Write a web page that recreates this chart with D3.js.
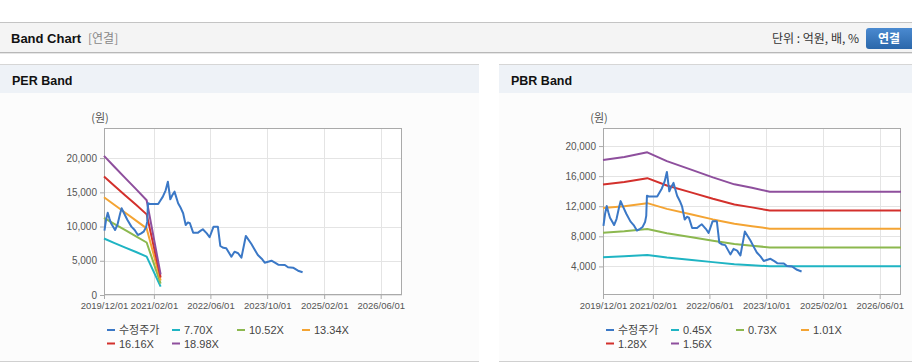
<!DOCTYPE html>
<html>
<head>
<meta charset="utf-8">
<script src="https://cdn.jsdelivr.net/npm/d3@7"></script>
<style>
  body { margin: 0; background: #fff; overflow: hidden; }
  svg { display: block; }
</style>
</head>
<body>
<svg id="chart" width="912" height="364"></svg>
<script>
// 수정주가 (PER / PBR 공통)
var priceDates = ["2019-12-05","2019-12-19","2020-01-02","2020-01-16","2020-01-30","2020-02-20","2020-03-05","2020-03-26",
  "2020-04-16","2020-04-30","2020-05-21","2020-06-18","2020-07-23","2020-08-20","2020-09-17","2020-10-15","2020-11-05",
  "2020-11-26","2020-12-06","2020-12-12","2020-12-28","2021-02-04","2021-03-10","2021-03-25","2021-04-19","2021-05-13",
  "2021-06-01","2021-06-22","2021-07-10","2021-07-28","2021-08-28","2021-09-20","2021-10-10","2021-11-01","2021-11-20",
  "2021-12-07","2022-01-04","2022-02-15","2022-03-10","2022-03-28","2022-05-01","2022-05-25","2022-06-28","2022-08-04",
  "2022-08-25","2022-09-20","2022-10-15","2022-11-28","2022-12-25","2023-01-25","2023-02-22","2023-04-01","2023-05-19",
  "2023-06-20","2023-07-13","2023-08-15","2023-09-10","2023-11-07","2023-12-10","2024-01-04","2024-03-01","2024-03-28",
  "2024-05-10","2024-06-22","2024-07-31"];
var priceValues = [9400,11000,12030,11200,10480,9900,9500,10300,
  11800,12680,11940,11000,9990,9500,8770,9000,9250,
  9900,10720,13400,13300,13300,13300,13700,14370,15300,
  16560,13990,14600,15100,13400,12700,11940,10230,10600,
  10480,9110,9110,9400,9600,9000,8440,9990,9990,
  7160,6900,6830,5600,6330,6100,5450,8630,7450,
  6500,5850,5300,4720,5010,4700,4430,4390,4050,
  3990,3550,3320];

// PER 밴드
var perBandDates = ["2019-12-01","2020-03-01","2020-06-01","2020-09-01","2020-12-01","2021-03-31"];
var per770  = [8250, 7590, 6930, 6280, 5610, 1220];
var per1052 = [11270, 10360, 9470, 8570, 7670, 1660];
var per1334 = [14290, 13140, 12010, 10870, 9730, 2110];
var per1616 = [17310, 15920, 14540, 13170, 11780, 2550];
var per1898 = [20330, 18700, 17080, 15470, 13840, 3000];

// PBR 밴드
var pbrBandDates = ["2019-12-01","2020-06-01","2020-12-15","2021-06-01","2022-01-01","2022-07-01","2023-01-01","2023-06-01","2023-11-01","2026-12-01"];
var pbr045 = [5230, 5350, 5530, 5190, 4860, 4570, 4300, 4170, 4020, 4020];
var pbr073 = [8490, 8680, 8970, 8420, 7880, 7410, 6980, 6760, 6520, 6520];
var pbr101 = [11750, 12010, 12410, 11650, 10900, 10250, 9660, 9350, 9020, 9020];
var pbr128 = [14890, 15220, 15730, 14760, 13810, 12990, 12240, 11850, 11430, 11430];
var pbr156 = [18140, 18550, 19170, 17990, 16830, 15830, 14910, 14450, 13930, 13930];

var xTickLabels = ["2019/12/01","2021/02/01","2022/06/01","2023/10/01","2025/02/01","2026/06/01"];
var perYTicks = [0, 5000, 10000, 15000, 20000];
var pbrYTicks = [4000, 8000, 12000, 16000, 20000];
var perNames = ["수정주가","7.70X","10.52X","13.34X","16.16X","18.98X"];
var pbrNames = ["수정주가","0.45X","0.73X","1.01X","1.28X","1.56X"];
var colors = ["#3b78c6","#1fb4c3","#8cb84f","#f4a433","#d3302c","#8e4f9d"];

var parseDay = d3.timeParse("%Y-%m-%d");
var parseTick = d3.timeParse("%Y/%m/%d");
var numFmt = d3.format(",");
var numFont = "'Liberation Sans', Arial, sans-serif";
var krFont = "'Noto Sans CJK KR', 'Liberation Sans', sans-serif";

var svg = d3.select("#chart");

// ---- 상단 타이틀 바 ----
svg.append("rect").attr("x", 0).attr("y", 22.5).attr("width", 912).attr("height", 30)
  .attr("fill", "#f4f4f4");
svg.append("line").attr("x1", 0).attr("x2", 912).attr("y1", 22.5).attr("y2", 22.5).attr("stroke", "#c4c4c4");
svg.append("line").attr("x1", 0).attr("x2", 912).attr("y1", 52.5).attr("y2", 52.5).attr("stroke", "#b8b8b8");
svg.append("line").attr("x1", 0).attr("x2", 912).attr("y1", 53.5).attr("y2", 53.5).attr("stroke", "#e6e6e6");

svg.append("text").attr("x", 11).attr("y", 43).text("Band Chart")
  .attr("font-family", numFont).attr("font-weight", "bold").attr("font-size", 13).attr("fill", "#111");
svg.append("text").attr("x", 88).attr("y", 43).text("[연결]")
  .attr("font-family", krFont).attr("font-size", 12).attr("fill", "#888");
svg.append("text").attr("x", 859).attr("y", 43).attr("text-anchor", "end").text("단위 : 억원, 배, %")
  .attr("font-family", krFont).attr("font-size", 12).attr("fill", "#333");

var btnGrad = svg.append("defs").append("linearGradient").attr("id", "btn")
  .attr("x1", 0).attr("x2", 0).attr("y1", 0).attr("y2", 1);
btnGrad.append("stop").attr("offset", "0%").attr("stop-color", "#4a8ad0");
btnGrad.append("stop").attr("offset", "100%").attr("stop-color", "#2b67aa");
svg.append("rect").attr("x", 866).attr("y", 28).attr("width", 52).attr("height", 21).attr("rx", 3)
  .attr("fill", "url(#btn)");
svg.append("text").attr("x", 889).attr("y", 43).attr("text-anchor", "middle").text("연결")
  .attr("font-family", krFont).attr("font-weight", "bold").attr("font-size", 12).attr("fill", "#fff");

// ---- 패널 하나 그리기 ----
function drawPanel(p) {
  var panel = svg.append("g");

  panel.append("rect").attr("x", p.left).attr("y", 64).attr("width", p.width).attr("height", 29)
    .attr("fill", "#eef2f7");
  panel.append("line").attr("x1", p.left).attr("x2", p.left + p.width).attr("y1", 64.5).attr("y2", 64.5)
    .attr("stroke", "#d6d6d6");
  panel.append("rect").attr("x", p.left).attr("y", 93).attr("width", p.width).attr("height", 268)
    .attr("fill", "#fcfcfc");
  panel.append("line").attr("x1", p.left).attr("x2", p.left + p.width).attr("y1", 361.5).attr("y2", 361.5)
    .attr("stroke", "#d0d0d0");
  panel.append("text").attr("x", p.left + 12).attr("y", 85).text(p.title)
    .attr("font-family", numFont).attr("font-weight", "bold").attr("font-size", 12.5).attr("fill", "#111");

  var plotW = 298, plotH = 167;
  var g = panel.append("g").attr("transform", "translate(" + p.plotX + ",128)");

  var x = d3.scaleTime()
    .domain([parseTick("2019/12/01"), parseTick("2026/12/01")])
    .range([0, plotW]);
  var y = d3.scaleLinear().domain(p.yDomain).range([plotH, 0]);

  g.append("rect").attr("width", plotW).attr("height", plotH).attr("fill", "#fff");

  // 격자
  g.selectAll(".hg").data(p.yTicks).enter().append("line")
    .attr("x1", 0).attr("x2", plotW)
    .attr("y1", function (d) { return Math.round(y(d)) + 0.5; })
    .attr("y2", function (d) { return Math.round(y(d)) + 0.5; })
    .attr("stroke", "#e4e4e4");
  g.selectAll(".vg").data(xTickLabels).enter().append("line")
    .attr("x1", function (d) { return Math.round(x(parseTick(d))) + 0.5; })
    .attr("x2", function (d) { return Math.round(x(parseTick(d))) + 0.5; })
    .attr("y1", 0).attr("y2", plotH)
    .attr("stroke", "#e4e4e4");

  // 축
  var xAxis = d3.axisBottom(x)
    .tickValues(xTickLabels.map(parseTick))
    .tickFormat(d3.timeFormat("%Y/%m/%d"))
    .tickSize(4).tickPadding(3);
  var xg = g.append("g").attr("transform", "translate(0," + plotH + ")").call(xAxis);
  xg.selectAll("text").attr("font-family", numFont).attr("font-size", 9.5).attr("fill", "#555");

  var yAxis = d3.axisLeft(y).tickValues(p.yTicks).tickFormat(numFmt).tickSize(4).tickPadding(3);
  var yg = g.append("g").call(yAxis);
  yg.selectAll("text").attr("font-family", numFont).attr("font-size", 10).attr("fill", "#555");

  g.selectAll(".domain").remove();
  g.selectAll(".tick line").attr("stroke", "#aaa");
  g.append("rect").attr("x", 0.5).attr("y", 0.5).attr("width", plotW - 1).attr("height", plotH - 1)
    .attr("fill", "none").attr("stroke", "#aaa");

  panel.append("text").attr("x", p.plotX - 4).attr("y", 122).attr("text-anchor", "middle").text("(원)")
    .attr("font-family", krFont).attr("font-size", 11).attr("fill", "#555");

  // 선
  var line = d3.line()
    .x(function (d) { return x(d[0]); })
    .y(function (d) { return y(d[1]); });

  p.bands.forEach(function (vals, i) {
    var pts = vals.map(function (v, j) { return [parseDay(p.bandDates[j]), v]; });
    g.append("path").datum(pts).attr("d", line)
      .attr("fill", "none").attr("stroke", colors[i + 1]).attr("stroke-width", 2)
      .attr("stroke-linejoin", "round");
  });
  var pricePts = priceValues.map(function (v, j) { return [parseDay(priceDates[j]), v]; });
  g.append("path").datum(pricePts).attr("d", line)
    .attr("fill", "none").attr("stroke", colors[0]).attr("stroke-width", 2)
    .attr("stroke-linejoin", "round");

  // 범례
  var leg = panel.selectAll(".leg").data(p.names).enter().append("g")
    .attr("transform", function (d, i) {
      return "translate(" + (p.plotX + 3 + (i % 4) * 65) + "," + (330 + Math.floor(i / 4) * 13.5) + ")";
    });
  leg.append("line").attr("x1", 0).attr("x2", 8).attr("y1", 0).attr("y2", 0)
    .attr("stroke", function (d, i) { return colors[i]; }).attr("stroke-width", 2);
  leg.append("text").attr("x", 12).attr("y", 4).text(function (d) { return d; })
    .attr("font-family", function (d, i) { return i === 0 ? krFont : numFont; })
    .attr("font-size", 11).attr("fill", "#444");
}

drawPanel({
  title: "PER Band", left: 0, width: 479, plotX: 104,
  yDomain: [0, 24400], yTicks: perYTicks,
  bandDates: perBandDates, bands: [per770, per1052, per1334, per1616, per1898],
  names: perNames
});
drawPanel({
  title: "PBR Band", left: 499, width: 413, plotX: 603,
  yDomain: [200, 22400], yTicks: pbrYTicks,
  bandDates: pbrBandDates, bands: [pbr045, pbr073, pbr101, pbr128, pbr156],
  names: pbrNames
});
</script>
</body>
</html>
